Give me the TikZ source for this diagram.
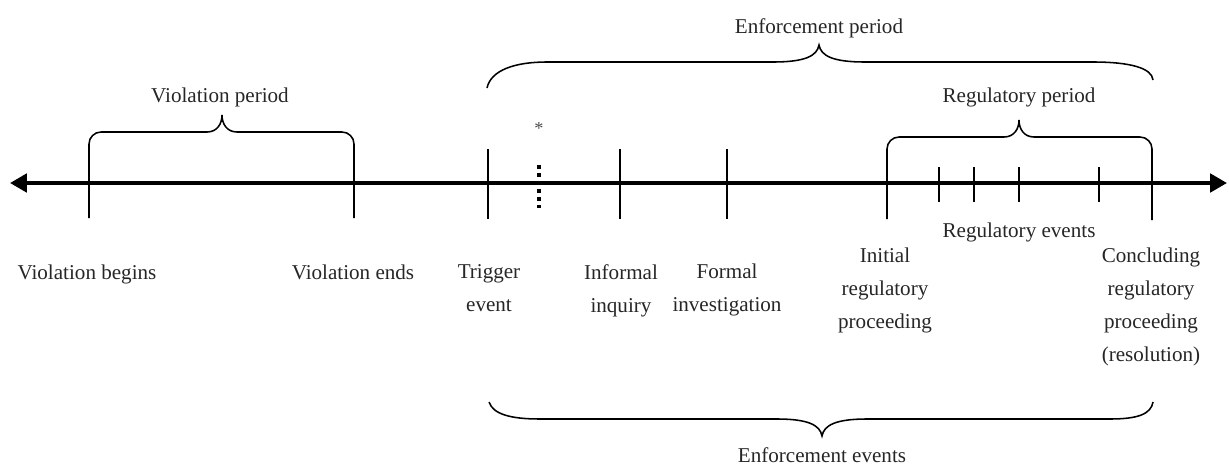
\documentclass[tikz,border=0pt]{standalone}
\usepackage{fontspec}
\setmainfont{Liberation Serif}
\usetikzlibrary{arrows.meta, positioning}

\begin{document}
\begin{tikzpicture}[x=0.025cm, y=-0.025cm,
        lbl/.style={font=\fontsize{15}{23.4}\selectfont, text=black!85, align=center, inner sep=0pt, anchor=north},
        tick/.style={line width=1.3pt},
        minortick/.style={line width=1.1pt},
        bracket/.style={line width=1.1pt, rounded corners=0.3cm},
        brace/.style={line width=1.1pt}]
    \useasboundingbox (0,0) rectangle (1229,468);

    % time line
    \draw[line width=2.8pt, {Triangle[length=12pt,width=13pt]}-{Triangle[length=12pt,width=13pt]}] (10,183) -- (1227,183);

    % violation period
    \draw[bracket] (89,218) |- (207,132);
    \draw[bracket] (354,218) |- (237,132);
    \draw[brace] (207,132) .. controls (217,132) and (222,124) .. (222,115) .. controls (222,124) and (227,132) .. (237,132);
    \node[lbl] (vioperiod) at (220,88) {Violation period};

    % regulatory period
    \draw[bracket] (887,219) |- (1004,137);
    \draw[bracket] (1152,220) |- (1034,137);
    \draw[brace] (1004,137) .. controls (1014,137) and (1019,129) .. (1019,120) .. controls (1019,129) and (1024,137) .. (1034,137);
    \node[lbl] (regperiod) at (1019,88) {Regulatory period};

    % enforcement period
    \draw[brace] (487,88) .. controls (491,70) and (515,62) .. (547,62) -- (773,62)
        .. controls (805,62) and (817,56) .. (819,45) .. controls (821,56) and (833,62) .. (865,62)
        -- (1093,62) .. controls (1130,62) and (1152,68) .. (1153,80);
    \node[lbl] (enfperiod) at (819,18) {Enforcement period};

    % enforcement events
    \draw[brace] (489,402) .. controls (493,414) and (510,419) .. (540,419) -- (777,419)
        .. controls (808,419) and (820,425) .. (822,436) .. controls (824,425) and (836,419) .. (867,419)
        -- (1110,419) .. controls (1138,419) and (1151,414) .. (1153,402);
    \node[lbl] (enfevents) at (822,447) {Enforcement events};

    % events
    \draw[tick] (488,149) -- (488,219);
    \draw[line width=2.4pt, dash pattern=on 2.5pt off 3.2pt] (539,165) -- (539,208);
    \node[lbl, font=\fontsize{13}{14}\selectfont, text=black!70] (star) at (539,122) {*};
    \draw[tick] (620,149) -- (620,219);
    \draw[tick] (727,149) -- (727,219);
    \foreach \x in {939, 974, 1019, 1099}
        \draw[minortick] (\x,167) -- (\x,202);
    \node[lbl] (regevents) at (1019,223) {Regulatory events};

    % labels under the line
    \node[lbl] (viobegins) at (87,265) {Violation begins};
    \node[lbl] (vioends) at (353,265) {Violation ends};
    \node[lbl] (trigger) at (489,264) {Trigger\\event};
    \node[lbl] (inquiry) at (621,264) {Informal\\inquiry};
    \node[lbl] (investigation) at (727,264) {Formal\\investigation};
    \node[lbl] (initial) at (885,248) {Initial\\regulatory\\proceeding};
    \node[lbl] (concluding) at (1151,248) {Concluding\\regulatory\\proceeding\\(resolution)};
\end{tikzpicture}
\end{document}
